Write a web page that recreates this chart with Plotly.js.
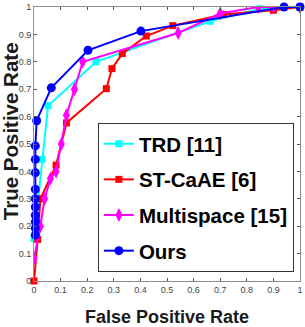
<!DOCTYPE html>
<html>
<head>
<meta charset="utf-8">
<script src="https://cdn.plot.ly/plotly-3.0.1.min.js"></script>
<style>html,body{margin:0;padding:0;background:#fff;}#chart{width:305px;height:327px;}</style>
</head>
<body>
<div id="chart"></div>
<script>
// Series names
const seriesNames = ["TRD [11]", "ST-CaAE [6]", "Multispace [15]", "Ours"];

// TRD [11]
const trdFPR = [0, 0.005, 0.015, 0.03, 0.053, 0.233, 0.662, 0.85, 1.0];
const trdTPR = [0.155, 0.2, 0.3, 0.444, 0.64, 0.80, 0.948, 0.994, 1.0];

// ST-CaAE [6]
const stFPR = [0, 0.014, 0.024, 0.083, 0.122, 0.272, 0.293, 0.332, 0.422, 0.522, 0.712, 0.90, 1.0];
const stTPR = [0, 0.152, 0.30, 0.423, 0.577, 0.702, 0.775, 0.83, 0.894, 0.932, 0.973, 0.988, 1.0];

// Multispace [15]
const msFPR = [0, 0.024, 0.04, 0.062, 0.083, 0.103, 0.122, 0.152, 0.183, 0.542, 0.70, 0.843, 0.90, 1.0];
const msTPR = [0.083, 0.20, 0.30, 0.374, 0.40, 0.50, 0.605, 0.70, 0.80, 0.905, 0.976, 1.0, 1.0, 1.0];

// Ours
const ourFPR = [0.005, 0.005, 0.005, 0.005, 0.005, 0.005, 0.005, 0.005, 0.005, 0.005, 0.01, 0.065, 0.203, 0.402, 0.94, 1.0];
const ourTPR = [0.168, 0.193, 0.216, 0.24, 0.27, 0.30, 0.335, 0.395, 0.444, 0.493, 0.585, 0.705, 0.842, 0.912, 1.0, 1.0];

// Tick values / labels
const tickVals = [0, 0.1, 0.2, 0.3, 0.4, 0.5, 0.6, 0.7, 0.8, 0.9, 1];
const tickText = ["0", "0.1", "0.2", "0.3", "0.4", "0.5", "0.6", "0.7", "0.8", "0.9", "1"];

// Axis titles
const xTitle = "False Positive Rate";
const yTitle = "True Positive Rate";

const mk = (name, x, y, color, symbol, size, clip, grp) => ({
  type: "scatter", mode: "lines+markers", name: name, x: x, y: y,
  legendgroup: grp, cliponaxis: clip,
  line: {color: color, width: 2},
  marker: {color: color, symbol: symbol, size: size, line: {width: 0}}
});

const traces = [
  mk(seriesNames[0], trdFPR, trdTPR, "#00FFFF", "square", 7, false, "a"),
  mk(seriesNames[1], stFPR, stTPR, "#FF0000", "square", 7, false, "b"),
  mk(seriesNames[2], msFPR, msTPR, "#FF00FF", "diamond-tall", 10, true, "c"),
  mk(seriesNames[3], ourFPR, ourTPR, "#0000FF", "circle", 9, false, "d")
];

const FONT = "Liberation Sans, Arial, sans-serif";

const axisCommon = {
  range: [0, 1], tickvals: tickVals, ticktext: tickText,
  showgrid: false, zeroline: false, showline: true, linecolor: "#8c8c8c", linewidth: 1,
  mirror: "ticks", ticks: "inside", ticklen: 3, tickcolor: "#555",
  tickfont: {family: FONT, size: 9, color: "#444"}
};

const layout = {
  width: 305, height: 327,
  margin: {l: 34, r: 5, t: 7, b: 46},
  paper_bgcolor: "#fff", plot_bgcolor: "#fff",
  showlegend: true,
  xaxis: Object.assign({}, axisCommon, {
    title: {text: xTitle, standoff: 17,
      font: {family: FONT, size: 18, color: "#1a1a1a", weight: "bold"}}
  }),
  yaxis: Object.assign({}, axisCommon, {
    title: {text: ""}
  }),
  annotations: [{
    text: yTitle, textangle: -90, showarrow: false,
    xref: "paper", yref: "paper", x: -0.09, y: 0.547,
    xanchor: "center", yanchor: "middle", borderpad: 0,
    font: {family: FONT, size: 20.5, color: "#1a1a1a", weight: "bold"}
  }],
  legend: {
    x: 0.977, xanchor: "right", y: 0.577, yanchor: "top",
    bgcolor: "#fff", bordercolor: "#333", borderwidth: 1,
    tracegroupgap: 6, itemwidth: 30,
    font: {family: FONT, size: 20.5, color: "#000", weight: "bold"}
  }
};

Plotly.newPlot("chart", traces, layout, {displayModeBar: false, staticPlot: true});
</script>
</body>
</html>
